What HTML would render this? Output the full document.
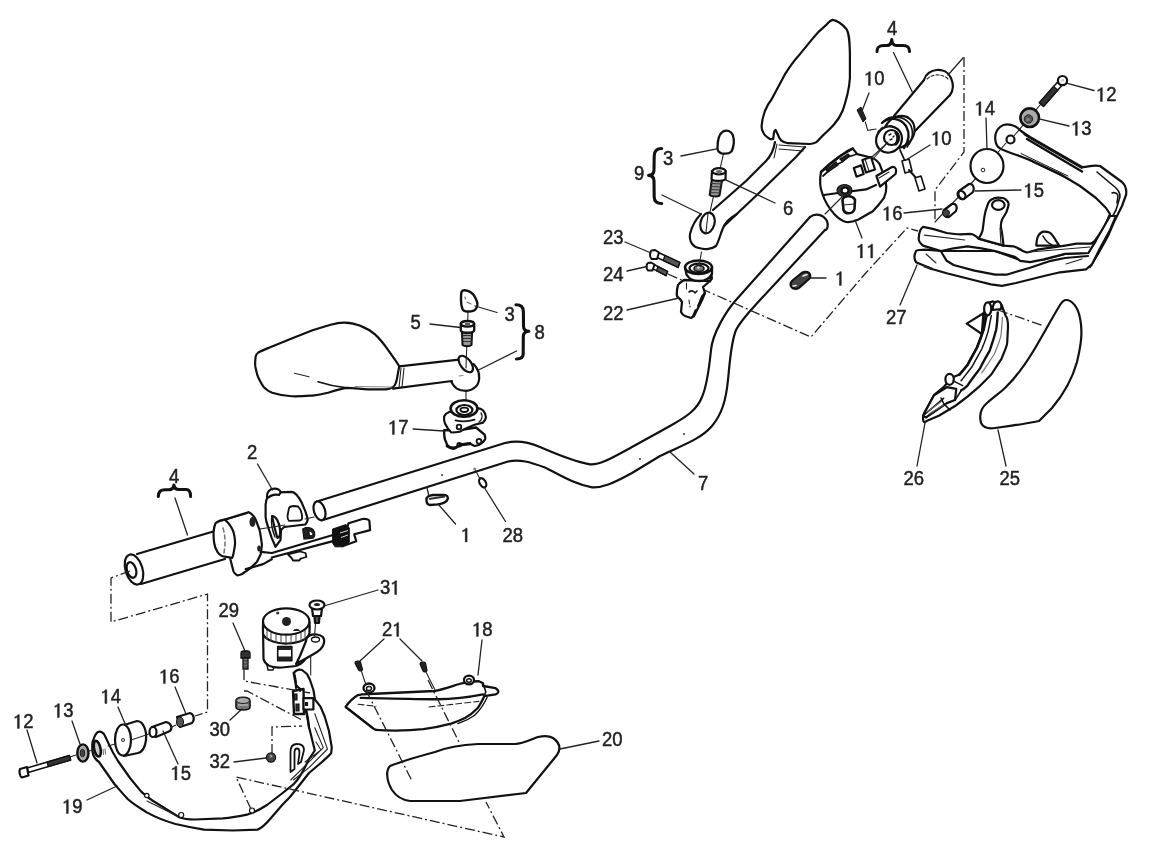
<!DOCTYPE html>
<html><head><meta charset="utf-8">
<style>
html,body{margin:0;padding:0;background:#fff;}
body{width:1152px;height:849px;overflow:hidden;}
svg{display:block;filter:blur(0.4px);}
.o{fill:none;stroke:#111;stroke-width:2.2;stroke-linejoin:round;stroke-linecap:round;}
.w{fill:#fff;stroke:#111;stroke-width:2.2;stroke-linejoin:round;stroke-linecap:round;}
.t{fill:none;stroke:#222;stroke-width:1.1;stroke-linecap:round;}
.l{fill:none;stroke:#222;stroke-width:1.3;stroke-linecap:round;}
.d{fill:none;stroke:#222;stroke-width:1.3;stroke-dasharray:10 3 2 3;}
.k{fill:#222;stroke:#111;stroke-width:1.2;}
.g{fill:#555;stroke:#111;stroke-width:1.2;}
text{font-family:"Liberation Sans",sans-serif;font-size:18.5px;fill:#222;stroke:#222;stroke-width:0.45px;transform-box:fill-box;transform-origin:50% 80%;transform:scaleY(1.08);}
.h{fill:none;stroke:none;}
.g1{fill:#222;stroke:#222;stroke-width:0.45px;}
</style></head>
<body>
<svg width="1152" height="849" viewBox="0 0 1152 849">

<!-- ============ HANDLEBAR TUBE (7) ============ -->
<g id="tube">
<path class="o" d="M317,501.5 L505,443 C515,440.5 527,441.5 540,447 C556,454 574,461.5 590,464.3 C600,465 610,459 632,447 L670,426 C686,417 697,410 702,397 C706,388 709,370 711,350 C712.5,333 727,310 736,300 L810,217"/>
<path class="o" d="M323,520 L508,461.5 C520,459 530,462 545,467.5 C560,475 575,484.5 592,487.3 C602,488 612,484 632,473 L660,456 C680,446 700,440 712,426 C722,414 726,400 728,380 C730,360 731,342 736,330 C741,320 750,311 760,300 L825,230"/>
<path class="o" d="M810,217 C815,213 823,214 827,221 C829,226 827,230 825,230"/>
<ellipse class="w" cx="319.5" cy="510.8" rx="5.5" ry="9.8" transform="rotate(-17 319.5 510.8)"/>
<circle cx="442" cy="475" r="1" fill="#333"/>
<circle cx="640" cy="459" r="1" fill="#333"/>
<circle cx="684" cy="434" r="1" fill="#333"/>
</g>

<path class="d" d="M668,274 L811,337 L864,275 L907,228 L918,231"/>
<!-- ============ LEFT MIRROR (8) ============ -->
<g id="lmirror">
<path class="w" d="M255.6,356.7 C255,362 255,366 255.6,367.8 C256.5,372 257,375 258.3,377.5 C260,381 262,385 263.9,387.2 C266.5,390 269,391.5 272.2,392.8 C279,395 285,396 291.7,396.25 C299,396.5 306,396 312.5,395.6 C318,395 323,394 327.8,392.8 C335,390.5 341,388.5 347.2,387.9 C354,388 361,389 368,389.3 L386,389.3 C389,389 391,388.5 393,387.2 C394.5,386 395.3,384.5 395.8,383 C397,380 397.5,376 397.9,373.3 L399.3,366.4 C398,364 397,362.5 395.8,360.8 L388.9,351.1 C384,344 380,339 375,334.4 C370,330 366,328 361.1,326.1 C355,323.5 350,322.8 344.4,322.6 C339,322.5 335,323.5 330.6,324.7 L312.5,330.3 L291.7,338.6 L270.8,346.9 C266,349 262,350.5 258.3,352.5 C257,353.5 256,355 255.6,356.7 Z"/>
<path class="t" d="M294.4,373.3 L309,376.8"/>
<path class="o" d="M318,381.7 C328,385 338,387 347.2,387.9" style="stroke-width:1.6"/>
<path class="t" d="M355,386.5 L392,387" style="stroke:#888"/>
<path d="M456.5,358 C457,357 458,356.8 459,356.8 C466,357 473,362 476.7,368.2 C478.5,371 479.3,375 479.2,378.2 C479,382 477.5,385 475.4,387 C472.5,389.5 470,390.8 466.6,390.8 C462,391 459,390 456.5,388.3 C454,386.5 452,384 451,382 Z" fill="#fff" stroke="none"/>
<path class="o" d="M399.3,366.4 L459,359.6 M393,388.6 L452,381"/>
<path class="t" d="M401,368 L399,388 M404,368 L402,387"/>
<path class="o" d="M473.5,364 C475,365.5 476,367 476.7,368.2 C478.5,371 479.3,375 479.2,378.2 C479,382 477.5,385 475.4,387 C472.5,389.5 470,390.8 466.6,390.8 C462,391 459,390 456.5,388.3 C454,386.5 452.5,384 451.5,382.2"/>
<ellipse class="w" cx="465.8" cy="364" rx="9.6" ry="5.2" transform="rotate(52 465.8 364)"/>
<path class="t" d="M466.3,357 L466,368"/>
<path class="t" d="M459,376 L463,375.5" style="stroke:#888"/>
</g>
<!-- cap 3 left, bolt 5 -->
<path class="t" d="M468,311 L467.7,322 M466.8,346 L466.3,358 M466,390 L466,401"/>
<path class="w" d="M461.5,292 C462,290.5 463.5,290 465,290.3 C470,291 474,294.5 475.6,298.2 C477,301 477.5,303 477.4,304.4 C477,307.5 475.5,309.8 473.8,310.6 C471,311.5 469,311.6 467.7,311.5 C465,311.3 463,310.5 462.4,308.8 C461.3,306 461,303 461,300 C461,297 461,294 461.5,292 Z" style="stroke-width:2.4"/>
<path class="t" d="M465,297 L465.5,299 M467,302 L471,304" style="stroke:#666"/>
<path d="M462,332.5 L462.5,345 C464,346.5 470,346.5 471.5,345 L472.1,332.5 Z" fill="#999" stroke="#111" stroke-width="2" stroke-linejoin="round"/>
<path d="M462.5,335.5 L472,335.5 M462.5,338.5 L472,338.5 M462.5,341.5 L472,341.5" stroke="#333" stroke-width="1"/>
<path class="w" d="M460.8,324 L460.8,330.5 C462,333.5 473,333.5 474.2,330.5 L474.2,324 Z" style="stroke-width:2.3"/>
<ellipse class="w" cx="467.5" cy="323.8" rx="6.6" ry="2.8" style="stroke-width:2.3"/>
<ellipse cx="467.5" cy="324" rx="2.8" ry="1.2" fill="#555"/>
<!-- 17 -->
<g id="p17">
<path class="w" d="M444.2,430.3 C444,436 444.5,439 445.6,441 C446.5,444 447.5,446 449.1,447.3 C451,448.5 452.5,448.8 454.1,448.7 C456,448 458,446 459.7,444.5 L470.3,443.8 C472,444.5 473,445.5 474.6,445.9 C477,446 479.5,445 481.6,443.1 C483.5,441.5 484.8,440 485.2,438.8 C485.5,437 485,435.5 484.5,434.6 L476,427.5 L460,430 Z" style="stroke-width:2.4"/>
<path class="w" d="M449.1,412 C446.5,413 445,414.5 444.2,416.2 C443.8,419 444,421.5 444.9,423.3 C446.5,427 448.5,430 451.3,432.5 C454,432.5 457,432.3 459.7,431.7 C461.5,430.8 463,429.8 464.7,428.9 L474.6,424.7 L483.1,422.6 C485,420.5 486,418.5 485.9,416.9 C485.5,414 484.5,412 483.1,410.5 C481.5,409 480,408.5 478.8,408.4 L476,409.1 Z" style="stroke-width:2.2"/>
<ellipse class="w" cx="464" cy="408.5" rx="13.4" ry="8.3" style="stroke-width:2.6"/>
<ellipse class="w" cx="464.4" cy="410" rx="8" ry="5" style="stroke-width:2.2"/>
<ellipse class="w" cx="464.3" cy="409.8" rx="3.9" ry="2.2" style="stroke-width:1.8"/>
<path class="o" d="M455.5,420.4 C462,422 469,421.5 474.6,419.7" style="stroke-width:1.8"/>
<ellipse cx="459" cy="427" rx="2.3" ry="2.3" fill="#fff" stroke="#111" stroke-width="1.8"/>
<ellipse cx="459.3" cy="444.8" rx="2" ry="1.8" fill="#fff" stroke="#111" stroke-width="1.8"/>
<ellipse cx="479" cy="441.3" rx="2.4" ry="2.4" fill="#fff" stroke="#111" stroke-width="1.8"/>
<path class="o" d="M447,446 C452,449 456,448.5 460,445 L470,443.5" style="stroke-width:2.8"/>
<path class="t" d="M481,413 C483,416 482,420 479,422" style="stroke-width:1.4"/>
</g>

<!-- ============ RIGHT MIRROR (9) ============ -->
<g id="rmirror">
<path class="w" d="M832.6,19.9 C837,20.5 843,25 846.6,29.3 C849,33 849.5,38 849.9,53.3 L849.9,78 C849.5,85 848.5,90 847.4,94.5 C846,100 844.5,106 842.5,111 C840,117 837,121 834.2,124.2 C830,129 827,131.5 824.3,134.1 C821,137 818.5,140.5 816,142.4 C813,144 811,144 809.5,144 L788,143.2 C785,142.5 783,142 781.4,140.7 C779.5,138.5 778.5,137 778.1,135 L775.6,130 C774.5,130.5 774,131.5 774,132.5 L773.2,139 C771,139.5 770,139 769.9,139 C766,136.5 764,134.5 763.3,132.5 C761.5,130 761.5,128 761.6,125.9 C762,120 763.5,115 764.9,111 C767,106 769,102.5 771.5,99.5 L784.7,74.7 C789,68 793,62 797.9,56.6 L812.8,38.4 C817,33 822,28.5 826,25.2 C828,23 830,20.5 832.6,19.9 Z"/>
<path class="o" d="M775,142 C774,148 772,155 766,161 L746,181 L713,210"/>
<path class="o" d="M805,147 L795,158 L759,193 L723,227"/>
<path class="t" d="M779,145 L805,147 M779,149 L803,151 M777,144 L774,158"/>
<path class="w" d="M701,214 C696,219 692,226 690,234 C689,242 693,247 699,248 C705,250 712,249 716,246 C719,241 720,235 723,228 C725,223 728,219 737,214"/>
<ellipse class="w" cx="707.5" cy="223" rx="7" ry="10.5" transform="rotate(15 707.5 223)"/>
<path class="t" d="M708,214 L706,232"/>
</g>
<!-- cap 3 right & bolt 6 -->
<path class="w" d="M717.5,148 C717.5,141 719,134 723,131.5 C727,129.5 731,131 732.8,135 C734.5,140 734,146 731.5,151.5 C729,153.8 725,154 721.5,153.3 C719,152.5 717.5,150.5 717.5,148 Z" style="stroke-width:2.3"/>
<path class="t" d="M723.4,154.2 L720,169 M713.5,196 L710,212"/>
<path d="M711.8,180 L709.7,194.8 C711,196.5 717,197 719.5,195.7 L722.1,180 Z" fill="#999" stroke="#111" stroke-width="2" stroke-linejoin="round"/>
<path d="M711,183.5 L721.5,184 M710.7,186.5 L721,187 M710.4,189.5 L720.5,190 M710.1,192.5 L720,193" stroke="#333" stroke-width="1"/>
<path class="w" d="M712,171 L711.5,179 C713,181.5 723,181.5 725.6,179 L725.6,171 Z" style="stroke-width:2.2"/>
<ellipse class="w" cx="719" cy="171.3" rx="6.6" ry="3.2" style="stroke-width:2.2"/>
<ellipse cx="719" cy="171.5" rx="3" ry="1.5" fill="#666"/>
<!-- ============ RIGHT GRIP (4) / THROTTLE / SWITCH (11) ============ -->
<g id="rgrip">
<path class="w" d="M924,80 C927,68 946,66 951,78 C954,85 953,91 950,95 L916,131 L880,124 Z" style="stroke:none"/>
<path class="o" d="M924,80 C927,68 946,66 951,78 C954,85 953,91 950,95"/>
<path class="o" d="M924,80 L894,116 M950,95 L915,131"/>
<path class="t" d="M927,79 C932,74 942,73 948,79" style="stroke-dasharray:3 2"/>
<ellipse class="w" cx="899" cy="132" rx="14.5" ry="17" transform="rotate(40 899 132)"/>
<path class="o" d="M884,121 C890,115 903,115 910,124 C914,131 913,140 907,147" style="stroke-width:1.6"/>
<path class="o" d="M882,123 C888,117 900,117 906,126 C910,133 909,141 904,148" style="stroke-width:2.4"/>
<ellipse class="w" cx="889" cy="139.5" rx="12.5" ry="13.5" transform="rotate(40 889 139.5)"/>
<path class="t" d="M878,132 C881,127 887,125 893,126" style="stroke-dasharray:2.5 2;stroke-width:1.6"/>
<circle class="w" cx="891.5" cy="137.5" r="7.5"/>
<path d="M896,131 C901,135 901,142 896,146 L894,144 C897,141 897,135 894,133 Z" fill="#111"/>
<path class="t" d="M889,135 L891,134 M890,140 L892,139 M893,137 L894,136" style="stroke-width:1.4"/>
<path d="M857,110 L861,107 L866,119 L863,122 Z" fill="#222" stroke="#111" stroke-width="1"/>
<path class="t" d="M865.3,122 L867.7,130.3 L876,129"/>
<path class="o" d="M900,150 L905,161" style="stroke-width:1.8"/>
<path class="w" d="M902,161 L909,159 L912,171 L905,173 Z" style="stroke-width:1.6"/>
<path class="o" d="M909,170 L917,179" style="stroke-width:2"/>
<path class="w" d="M915,178 L921,176 L925,189 L919,191 Z" style="stroke-width:1.6"/>
<path class="t" d="M888,142 L873,159"/>
</g>
<g id="p11">
<path class="w" d="M821,172 C819.5,180 820,188 822.5,194 C825,202 829,208 833.7,213.4 C838,218 842,221 846,222 C850,222.5 854,221.5 857.2,220.1 C863,217 868,214 872.8,211.2 C877,207 881,202 884,197.8 C886,193 886.5,190 886.3,186.6 C886,182 885,178 884,175.4 L879.6,164.2 C877,160 874,158.5 870.6,157.5 L857.2,154.1 L852.7,148.5 C848,150 845,152 841,155.5 L829.8,164 Z"/>
<path class="o" d="M821,172 L829.8,164 L841,155.5 L852.7,148.5" style="stroke-width:2.6"/>
<path class="o" d="M823,176 L834,166 L842,162 L848,157 L857,154" style="stroke-width:1.8"/>
<path class="k" d="M826,170 L836,162 L838,165 L828,172 Z M840,159 L848,154 L850,156 L842,161 Z"/>
<path class="o" d="M824,195 L838,193 L866,189.4 L876,185"/>
<path class="w" d="M853.8,168 L861,165.4 L863.7,174 L856.5,176.7 Z"/>
<path class="w" d="M862.3,160 L871,157 L875,169.5 L866,172.5 Z"/>
<path class="t" d="M865,159 L869,171"/>
<path class="w" d="M876.4,176 L892,167 C896,166.5 897,170 895.5,174 L880,186.6 Z"/>
<path class="t" d="M879,178 L889,172"/>
<ellipse cx="844.5" cy="190.5" rx="7.5" ry="6" fill="#333" stroke="#111" stroke-width="1.2"/>
<ellipse class="w" cx="845" cy="190.5" rx="3.5" ry="3"/>
<path class="w" d="M842.5,200 C843.5,195 853,195 855,200 L854.5,209 C853,214.5 845,214.5 843.5,210 Z" style="stroke-width:2.6"/>
<path class="t" d="M843,205 L854.5,204"/>
<path class="t" d="M825,214 L842,197 M872,157 L886,144"/>
</g>

<!-- ============ RIGHT HANDGUARD (27) & parts 12-16 ============ -->
<g id="rguard">
<!-- arm -->
<path class="w" d="M1001,149 C994,146 993,133 1000,127 C1006,122 1016,125 1021,131 L1030,137 L1082,167 C1087,167.5 1092,164.5 1100,166 L1122,182 C1126,186 1127,190 1126,195 L1122,206 L1114,222 L1108,236 L1098,254 L1090,267 L1084,262 L1088,246 L1094,242 L1104,228 L1110,214 L1106,208 L1096,198 L1080,186 L1060,174 L1030,160 C1020,156 1010,153 1001,149 Z"/>
<path class="o" d="M1024,134.5 L1031,139 L1082,168.5" style="stroke-width:1.4"/>
<path class="o" d="M1027,139 L1082,171.5" style="stroke-width:2.4"/>
<path class="o" d="M1018,155 L1068,179" style="stroke-width:1.3"/>
<path class="o" d="M1021,153.5 L1068,176" style="stroke-width:1"/>
<path class="o" d="M1097,172 L1116,188 C1120,192 1121,196 1119,200 L1116,210 L1106,228 L1096,240 L1088,246" style="stroke-width:1.6"/>
<path class="o" d="M1112,193 C1114,192 1118,193 1118,196 L1117,203" style="stroke-width:1.6"/>
<circle class="w" cx="1010.5" cy="139.5" r="4"/>
<!-- lower plate -->
<path class="w" d="M916,251 C917,250 920,249.7 926,249.7 L941,251 L995,251 L1020,260 L1044,259.4 L1065,254 L1088,253 L1095.5,241.3 L1110,216 L1116,216 L1110,230 L1100,248.3 L1092,264.3 L1086,269.3 L1060,272.3 L1044,276 L1016,283 L1002,285.8 L991,284.4 L974.4,280.3 L946.7,273.3 L932.8,269.2 L924.4,265.7 L916,262.2 C914,259 914,255 916,251 Z"/>
<path class="o" d="M941,251 L942.5,254 L946.7,260.8 L953.6,265 L974.4,270.6 L995.3,274.7 L1006.4,274.7 L1030,267.8 L1050.8,260.8 L1065,258 L1088,256"/>
<path class="t" d="M926,254 L936,263 M1066,264 L1082,259"/>
<path d="M924,266 L932,269" stroke="#222" stroke-width="2.5"/>
<!-- upper plate -->
<path class="w" d="M923,226.8 L932.8,228.9 L946.7,233 C953,234 957,234.4 960.6,234.4 L970.3,233.8 C973,234 975,235 978.6,238.6 L1003.6,245.6 L1013.3,246.3 C1016,247 1018,248 1023,251.1 C1025,252 1026,252.5 1027.2,252.5 L1037,249.7 L1065,245.6 L1076.6,243.7 L1090.8,243.7 L1095.5,241.3 L1088.4,253 L1065,253.9 L1043.9,259.4 L1030,262.2 L1020.3,260.8 L1014.7,256.7 L995.3,251.1 L981.4,248.3 L967.5,246.3 L953.6,248.3 L941.1,251.1 L923,245.6 C920,243 918,240 918.9,237.2 C919,232 920,229 923,226.8 Z"/>
<path class="t" d="M924.4,235.1 L964.7,240 M1030,252 L1090,247"/>
<!-- boss -->
<path class="w" d="M978.6,238.6 C981,235 982.5,232 982.8,228.9 L984.2,217.8 C985,212 986,209 987,206.7 C988,203 989,201 991.1,199.7 C994,198 996,197.6 998,197.6 C1001,197.6 1004,198 1005,199 C1008,201 1009,203 1008.5,205.3 C1008,208 1007,210 1006.4,212.2 L1002.2,219.2 C1001,222 1000.8,224 1000.8,226.1 L1002.2,234.4 L1003.6,245.6 Z"/>
<ellipse class="o" cx="998.3" cy="205" rx="6.3" ry="4.9"/>
<path class="t" d="M1000,228 L1001,245"/>
<!-- small loop -->
<path class="w" d="M1036.3,245.6 C1036.5,241 1037,238 1038.3,235.8 C1040,233 1042,231.7 1043.9,231.7 C1046,231.7 1048,231.8 1049.4,232.4 C1052,234 1054.5,238 1056.4,241.4 L1059.2,245.6 Z"/>
<path class="o" d="M1043,236 C1045,240 1048,243 1052,245" style="stroke-width:1.6"/>
</g>
<!-- axis and small parts -->
<path class="t" d="M1057,85 L1013,137 M1006,143 L994,157 M979,175 L935,222"/>
<!-- 12 bolt -->
<path d="M1061.6,85.8 L1043.6,106.3 L1039.4,102.7 L1057.4,82.2 Z" fill="#fff" stroke="#111" stroke-width="1.6" stroke-linejoin="round"/>
<path d="M1057.8,90 L1043.6,106.3 L1039.4,102.7 L1053.6,86.4 Z" fill="#333" stroke="#111" stroke-width="1.2"/>
<circle cx="1062.5" cy="80.6" r="4.6" fill="#fff" stroke="#111" stroke-width="2.2"/>
<circle cx="1062.8" cy="80.2" r="1.5" fill="#ccc"/>
<!-- 13 washer -->
<circle cx="1029.7" cy="117.7" r="9.3" fill="#aaa" stroke="#111" stroke-width="2.6"/>
<circle cx="1028.5" cy="119" r="4.2" fill="#555" stroke="#222" stroke-width="1"/>
<circle cx="1028" cy="119.5" r="1.5" fill="#888"/>
<!-- 14 -->
<ellipse class="w" cx="987" cy="166" rx="16.5" ry="17"/>
<circle cx="983" cy="170" r="1.8" fill="#fff" stroke="#222" stroke-width="1"/>
<!-- 15 -->
<path class="w" d="M959,191 L969,184 C973,183 975,188 973,192 L964,199 C960,200 957,195 959,191 Z"/>
<ellipse class="o" cx="961.5" cy="195" rx="3.5" ry="4.5" transform="rotate(-40 961.5 195)"/>
<!-- 16 -->
<path class="w" d="M944,210 L952,204 C956,203 958,207 956,211 L949,217 C945,218 942,214 944,210 Z"/>
<ellipse cx="946" cy="213" rx="3.5" ry="3.5" fill="#444" stroke="#111" stroke-width="1"/>

<!-- lower right guard 26 & shield 25 -->
<g id="p26">
<path class="w" d="M984,313 L983.4,330 L977,347.5 L967.5,365 L959.5,374.5 L951.6,377.7 L943.6,387.2 L934,395.2 L924.5,412.6 L923,417.4 C923,420 923.5,422 924.5,422.2 L927.7,420.6 L938.8,415.8 L954.7,406.3 L961.1,401.5 L967.5,396.7 L978.6,387.2 L991.3,374.5 L1001.6,358.6 C1005,350 1007,346 1007.2,342.7 L1008,326.8 C1008,320 1007,317 1005.6,315.7 L1001.6,305 L993,301.4 L987.7,303 Z"/>
<path class="w" d="M966.7,323.6 L983.4,313.3 L981.8,334 Z"/>
<path class="o" d="M986.5,315.7 C985,322 984.5,327 983.4,330 C981,338 979,343 977,347.5 C973,355 970,360 967.5,365 C964,369 962,372 959.5,374.5" style="stroke-width:2.6"/>
<path class="o" d="M991.3,315.7 C990,322 989,327 988.1,331.6 C986,339 984,344 981.8,349 C978,356 975,361 972.2,366.5 C968,372 964,377 961.1,380.8" style="stroke-width:1.5"/>
<path class="o" d="M997.7,312.5 C997.5,318 997,325 996.1,330 C994,338 992,344 989.7,350.6 C986,357 983,362 980.2,368.1 C976,374 971,380 967.5,385.6 C965,388 963,389.5 961.1,390.4" style="stroke-width:2.4"/>
<path class="t" d="M1002.4,317.3 C1002,325 1001.5,331 1000.8,336.3 C999,343 997,348 994.5,353.8 C990,361 986,367 981.8,372.9" style="stroke:#777;stroke-width:1.2"/>
<ellipse class="w" cx="987.7" cy="308.8" rx="3.6" ry="6.5" style="stroke-width:2.2"/>
<path class="w" d="M993,310 C992,305 995,301 998,301.4 C1001,302 1002,305 1001,309 Z"/>
<ellipse class="w" cx="949.6" cy="379.3" rx="4.2" ry="5.5" style="stroke-width:2.2"/>
<path class="o" d="M953.2,380.8 L962.7,385.6" style="stroke-width:1.5"/>
<path class="w" d="M934,395.2 L946.8,387.2 L956.3,388.8 L955,400 L946.8,403.1 L926.1,417.4 L923,415.8 Z"/>
<path class="o" d="M922.9,415.8 L943.6,398.3 M926.1,417.4 L946.8,403.1 M955,400 L961,391" style="stroke-width:1.6"/>
<path class="t" d="M927,412 L942,401 M929,414 L945,404" style="stroke:#666"/>
<path class="o" d="M941,398 L944,404 L950,410" style="stroke-width:1.6"/>
</g>
<path class="w" d="M1066,300 C1072,300 1078,307 1080,318 C1083,332 1081,345 1077,362 C1072,380 1063,395 1052,408 L1039,421 C1025,424 1010,426 995,428 C988,429 983,427 981,423 C979,415 981,408 987,403 C995,396 1001,392 1006,387 C1015,378 1025,365 1034,350 C1043,335 1052,318 1060,305 C1062,302 1064,300 1066,300 Z"/>
<path class="d" d="M998,310 L1044,326"/>

<!-- ============ LEFT GRIP (4), THROTTLE, SWITCH (2) ============ -->
<g id="lgrip">
<path class="w" d="M137,554 L215,531 L225,559 L141,584 Z" style="stroke:none"/>
<path class="o" d="M137,554 L215,531 M141,584 L225,559"/>
<ellipse class="w" cx="134" cy="569.5" rx="8.5" ry="15.5" transform="rotate(-17 134 569.5)"/>
<ellipse class="o" cx="131.5" cy="570" rx="4.5" ry="8" transform="rotate(-17 131.5 570)"/>
<!-- throttle housing -->
<path class="w" d="M224.8,519.6 L248.3,512.2 C250,512.5 251,513.5 252,514.6 C254,516 255,518 255.7,519.6 L259.4,529.5 C260.5,533 261,539 261.9,544.3 C261.5,549 261,552 260.7,554.2 L257,561.7 L250.8,567.8 L242.1,574 C240,575 238.5,575.5 237.2,575.3 C235,574 234,573 233.5,571.5 L231.6,564.1 L230.4,559.2 Z"/>
<path class="w" d="M215.5,523.3 C218,521 221,520 224.8,519.6 C229,523 232,528 233.5,532 C235,538 235.5,543 234.7,546.8 C234,551 233.5,555 232.2,557.9 L224.8,556.7 C219,556 215,550 214,542 C213,534 213.5,528 215.5,523.3 Z"/>
<path class="t" d="M223,528 L224,532 M224.5,535 L225,539 M225,542 L225,546 M224.5,549 L224,553" style="stroke:#777;stroke-width:1.6"/>
<path class="o" d="M221.1,520.8 L247.1,513.4" style="stroke-width:1.5"/>
<ellipse cx="252.5" cy="522" rx="3" ry="5" fill="#222"/>
<ellipse cx="259" cy="548.5" rx="1.8" ry="3" fill="#222"/>
<path class="o" d="M245.8,569.1 L263.1,564.1 L271.8,559.2 M260.7,551.8 L271.8,553"/>
<!-- switch 2 -->
<path class="w" d="M268.1,496.1 C266,500 265.6,503 265.6,504.7 L265.6,517.1 C266,521 267,524 268.1,527 L271.8,538.1 L275.5,546.8 L280.5,540 L281,530 L284.2,527 L305.2,524.5 C307,522 307.8,521 307.7,519.6 C307,516 306,513 305.2,510.9 L301.5,502.3 C300,499 298,496.5 296.5,494.8 C294.5,492.5 293,491.8 291.6,491.8 L279.2,492.4 Z"/>
<path class="w" d="M267,497 C266.5,492 270,489 274,488.7 C278,488.5 280.5,490 280.5,492.5 L279,495 C276,494 271,495 268.5,497.5 Z" style="stroke-width:2.2"/>
<path class="w" d="M289,508 C290,506.5 292,506 294,506 L298,506.5 C300,508 301.5,512 302,516 C302.5,518.5 302,520 300,520.5 L289,520.8 C288,520 287.5,518 287.5,516 Z" style="stroke-width:1.8"/>
<path d="M272,516 C276,516 279,522 280,529 C280.5,534 279.5,537.5 277.5,538 C275,531 274,525 272,516 Z" fill="#fff" stroke="#111" stroke-width="2.2" stroke-linejoin="round"/>
<path class="o" d="M271.8,516 C271,522 272,530 275,537" style="stroke-width:1.4"/>
<path d="M302.7,529 C306,527 311,527 313.5,530 C315.5,533 315,537 313,538.1 L304,539 Z" fill="#222" stroke="#111" stroke-width="1.2"/>
<path class="w" d="M309,531 C311,531 313,533 313,535 L310,536 Z" style="stroke-width:1"/>
<path class="t" d="M260,529 L285,525 M305,519 L314,517"/><!-- connector -->
<path class="o" d="M271.8,553 L333,535"/>
<path class="o" d="M271.8,557.5 L334.7,540.6"/>
<path class="w" d="M288,554.5 L300,551.5 L305.5,553 L306.4,557 L301,558.5 L299,560.5 L293,560.5 L291.6,558 Z" style="stroke-width:1.8"/>
<path class="w" d="M348.6,523.2 L362.5,519 C366,518.5 369,519.5 369.4,521.1 L370.1,530.1 L354.2,534.3 L356.25,541.25 L343,546 L347,528 Z"/>
<path d="M332.6,529 L346,524.5 L349.3,528 L349.3,542 L343,546.8 L335,546.8 L332.6,543 Z" fill="#111" stroke="#111" stroke-width="1"/>
<path d="M340,533 L348,530.5 M341,537.5 L348,535" stroke="#ddd" stroke-width="1"/>
</g>

<!-- ============ LEFT BOTTOM: reservoir (31), handguard (19) ============ -->
<g id="reservoir">
<path class="w" d="M263,626 L263.5,659 C265,665 272,668 282,667.5 L296,666 C302,664 306,660 307,654 L309.5,626 Z"/>
<path class="w" d="M263,622 L263,634 C266,641 278,644 288,643.5 C300,643 308,639 309.5,633 L309.5,622 Z"/>
<path class="t" d="M267,630 L267,639 M271,632 L271,641 M276,633 L276,642 M281,634 L281,643 M286,634 L286,643 M291,634 L291,643 M296,633 L296,642 M301,632 L301,641 M305,630 L305,639" style="stroke:#555"/>
<ellipse class="w" cx="286.2" cy="621.5" rx="23.2" ry="13.2"/>
<circle cx="286.5" cy="621.5" r="4.5" fill="#222"/>
<path d="M293,631 C294,628 299,628 300,631 Z" fill="#222"/>
<circle cx="277.7" cy="613" r="1.6" fill="#333"/>
<path class="w" d="M277.7,646.5 L291.8,646.5 L291.8,660.7 L277.7,660.7 Z" style="stroke-width:1.6"/>
<path d="M278,647 L291.5,647 L291.5,650 L278,650 Z M278,656.5 L291.5,656.5 L291.5,660.5 L278,660.5 Z" fill="#222"/>
<path class="o" d="M267,665 L268,670 L273,670 L274,667" style="stroke-width:1.4"/>
<path class="w" d="M306,641 C306,636 311,634 317,634.5 C322,635 325,638 324,643 C323,648 318,652 312,655 L296,664 L300,656 Z"/>
<ellipse class="o" cx="315.5" cy="639.5" rx="4" ry="2.5" style="stroke-width:1.3"/>
</g>
<!-- 31 bolt -->
<path class="w" d="M312,608 L313,616 L321,616 L322,608 Z"/>
<path class="w" d="M314.5,616 L315,623 L319,623 L319.5,616 Z" style="fill:#555"/>
<ellipse class="w" cx="317" cy="605" rx="7.5" ry="4.5"/>
<ellipse cx="317" cy="604.5" rx="3" ry="1.6" fill="#222"/>
<path class="t" d="M315.5,624 L314.5,636 M310.7,656 L310.7,675"/>
<!-- 29 bolt -->
<path d="M241,653 C241,650 250,650 250,653 L250,658 L241,658 Z" fill="#333" stroke="#111" stroke-width="1.3"/>
<path d="M243,658 L243,669 L248,669 L248,658 Z" fill="#777" stroke="#111" stroke-width="1.3"/>
<path d="M243,661 L248,661 M243,664 L248,664 M243,667 L248,667" stroke="#222" stroke-width="0.8"/>
<!-- 30 nut -->
<path d="M236,701 C236,696 250,696 250,701 L250,707 C250,711 236,711 236,707 Z" fill="#777" stroke="#111" stroke-width="1.6"/>
<ellipse cx="243" cy="700.5" rx="6.5" ry="3" fill="#aaa" stroke="#222" stroke-width="1"/>
<path d="M238,705 L248,705" stroke="#ccc" stroke-width="1"/>
<!-- 32 nut -->
<circle cx="271" cy="757.5" r="4.6" fill="#444" stroke="#111" stroke-width="1.2"/>
<circle cx="271" cy="756" r="1.5" fill="#999"/>

<!-- left handguard 19 -->
<g id="lguard">
<path class="w" d="M98,732 C101,731 104,733 105,736 L108.6,743.6 C111,749 114,755 118,761 L130,778 L141,791.4 C146,796 151,800 156.4,803 L179.3,817.2 C184,819 189,819.5 194.6,819.5 L223,818.3 C232,817.5 240,816 248,814.3 C255,812 261,809 267,805 L282,793.5 L294,783.8 C298,780 304,770 309,759 L314.8,750.5 L313.4,744.8 L309.2,727.8 L306.3,712.3 L300,689 L296,685 L293.6,673 C296,670 299,669 302,670 L307,674 L310,680 L313.4,690 L315,699.6 L320.5,706.6 L324.7,716.5 L328.9,730.7 L331.8,747.6 L331.1,753.3 C328,757 325,759 322,762 L309,773 L303.5,780 L290,797 L282.4,804.8 L271,818 C266,824 262,828 257.6,829.6 L232.8,830.5 L204,829.6 C194,828 184,826 175.5,824 C165,821 155,817 146.8,812.4 C140,808 133,804 127.7,799 C122,793 118,788 114.4,784 L99,762 C96,760 93,756 92.4,751 C92,746 92,742 93.4,740 C94.5,736 96,733 98,732 Z"/>
<ellipse cx="97.3" cy="748.7" rx="3.2" ry="8" fill="#ccc" stroke="#111" stroke-width="2.6" transform="rotate(-12 97.3 748.7)"/>
<path d="M103,749 L103.5,755 M105,748.5 L105.5,754.5" stroke="#555" stroke-width="0.9"/>
<path class="t" d="M147,801 L176,815.5"/>
<path class="t" d="M314.8,713.7 L327.5,749 L309.2,767.4 L293.6,780 M314.8,727.8 L323.3,747.6 L306.3,764.6 L290.8,780 M316,742 L321,750 L305,762"/>
<path class="o" d="M300,689 C304,700 308,715 309,728"/>
<path d="M290.5,772 L290.5,752 C290.5,746 293,744 297,744 C301,744 304,746 304,750 L301,762 L298,764 L299.5,753 C299.5,750 298.5,748.5 297,748.5 C295.5,748.5 294.5,750 294.5,753 L294.5,769 Z" fill="#fff" stroke="#111" stroke-width="1.8" stroke-linejoin="round"/>
<path class="w" d="M293,691 L303.5,689 L304,714 L294,714 Z" style="stroke-width:2.4"/>
<path class="k" d="M294,694 L297,694 L297,700 L294,700 Z M296,704 L299,704 L299,711 L296,711 Z" style="fill:#333"/>
<path class="w" d="M303.5,698.2 L313.4,698.2 L313.4,709.5 L303.5,709.5 Z"/>
<path class="k" d="M305.5,702.5 L307.5,702.5 L307.5,705.5 L305.5,705.5 Z"/>
<path class="o" d="M296,688 C296,680 295,676 294,673"/>
<circle cx="146.8" cy="795.5" r="2.2" fill="#fff" stroke="#111" stroke-width="1.2"/>
<circle cx="181.2" cy="815" r="2.5" fill="#fff" stroke="#111" stroke-width="1.2"/>
<circle cx="252" cy="810.5" r="2.5" fill="#fff" stroke="#111" stroke-width="1.2"/>
</g>
<!-- 12 bolt left -->
<path d="M27,768 L69.4,755.6 L70.6,760 L28.2,772.4 Z" fill="#fff" stroke="#111" stroke-width="1.6" stroke-linejoin="round"/>
<path d="M47,762.2 L69.4,755.6 L70.6,760 L48.2,766.6 Z" fill="#333" stroke="#111" stroke-width="1.2"/>
<path d="M20,769 L27,767 L28.5,775.5 L22,777.5 C19.5,776.5 19,771 20,769 Z" fill="#fff" stroke="#111" stroke-width="2.2" stroke-linejoin="round"/>
<!-- 13 washer left -->
<ellipse cx="82.9" cy="753" rx="5.6" ry="8.6" fill="#aaa" stroke="#111" stroke-width="2.4"/>
<ellipse cx="82.5" cy="753" rx="2.3" ry="3.8" fill="#444" stroke="#222" stroke-width="1"/>
<!-- 14 left -->
<path class="w" d="M121,726 L137,721 C143,721 147,730 146,740 C145,748 142,752 138,753 L124,756 Z"/>
<ellipse class="w" cx="123" cy="740" rx="8" ry="15.5"/>
<circle cx="123" cy="740" r="1.5" fill="#fff" stroke="#222" stroke-width="1"/>
<!-- 15 left -->
<path class="w" d="M152,727 L166,722 C171,723 173,728 170,731 L156,737 Z"/>
<ellipse class="w" cx="153" cy="732" rx="3.5" ry="5"/>
<!-- 16 left -->
<path class="w" d="M177,717 L190,713 C194,714 195,720 192,723 L180,727 Z"/>
<ellipse cx="180" cy="722" rx="3.5" ry="5" fill="#555" stroke="#111" stroke-width="1"/>
<!-- axis -->
<path class="t" d="M70,757 L76,755 M89,751 L93,750 M108,746 L115,744 M131,740 L149,734 M172,727 L176,725"/>

<!-- ============ PART 18 (light) and 20 (shield) ============ -->
<g id="p18">
<path class="w" d="M345.6,707 C349,702 354,697.5 358,695.1 L362.2,694.4 L374.7,693.75 C395,693 415,692 434.4,691 C443,689.5 451,686.5 459.4,684 L465,682.6 C470,681.8 475,681.2 478.9,681.25 L483,683.3 L483,686 L495.6,688.2 C497.5,689.5 498.5,690.5 498.3,691.7 C498,693 497,694 495.6,694.4 L485.8,695.8 L484.4,696 C482,701 480,705 477.5,708.3 C473,713 469,716 465,718 C460,720.5 455.5,722.2 451,723.6 C442,726 432,728 423.3,729.2 C414,730.2 405,730.6 395.6,730.6 C389,730.5 382,730.3 376,729.9 L373.3,728.5 L345.6,707 Z" style="stroke-width:2.3"/>
<path class="o" d="M360.8,697.9 C390,698.5 415,699.2 437.2,699.3 C455,699 470,697 483,694.4" style="stroke-width:2.4"/>
<path class="t" d="M358,704.2 L376,706.25 M428.9,707 L478.9,701.4" style="stroke-dasharray:6 3"/>
<path class="o" d="M487.2,697.2 C484,704 480,710 474.7,715.3 C469,719.5 463,722 458,723.6" style="stroke-width:1.4"/>
<path class="o" d="M483,683.3 L485.8,691.7 L484.4,696" style="stroke-width:1.6"/>
<path class="o" d="M374,729 L349,709" style="stroke-width:1.5"/>
<ellipse class="w" cx="369" cy="688" rx="5.5" ry="4.5" style="stroke-width:2.3"/>
<ellipse class="o" cx="369" cy="688.5" rx="2.5" ry="2" style="stroke-width:1.4"/>
<ellipse class="w" cx="469" cy="680" rx="5" ry="4.3" style="stroke-width:2.3"/>
<ellipse class="o" cx="469" cy="680.5" rx="2.3" ry="1.8" style="stroke-width:1.4"/>
</g>
<!-- screws 21 -->
<path d="M355,663 C355,661 359,660.5 360.5,662 L362.5,669.5 C362,671 359.5,671.5 358.5,670 Z" fill="#222" stroke="#111" stroke-width="1.2"/>
<path d="M420,664 C420,662 424,661.5 425.5,663 L427,670.5 C426.5,672 424,672.5 423,671 Z" fill="#222" stroke="#111" stroke-width="1.2"/>
<path class="t" d="M361,670 L366,685 M426,672 L435,690"/>
<!-- 20 -->
<path class="w" d="M390,766 C386,770 386,780 392,790 C396,796 402,800 410,801 L460,801 L526,793 L557,755 C561,749 560,743 553,738 C548,735 543,736 538,737 C530,740 522,744 515,744 L478,744 C460,745 445,748 435,752 C420,756 405,760 390,766 Z"/>

<!-- ============ RIGHT-SIDE small bits ============ -->
<!-- part 1 right -->
<path d="M791.5,287 C790,285 790.5,282.5 792.5,280.5 L801,273.5 C803.5,271.5 807,271.5 809,273 C810.5,274.5 810.5,277 809,279 L799.5,287.5 C797.5,289.5 793.5,289.5 791.5,287 Z" fill="#444" stroke="#111" stroke-width="2.2" stroke-linejoin="round"/>
<path d="M803,276 L807,274.5 M793,286 L796,285.5" stroke="#eee" stroke-width="1.5" stroke-linecap="round"/>
<!-- part 1 left -->
<path class="w" d="M426.5,500 C426,497 429,495.5 433,495 L444,494.8 C447,495 448.5,497 447.5,499.5 C446.5,502 443,503.5 438,504.3 L430,505 C427.5,504.8 426.5,502.5 426.5,500 Z" style="stroke-width:2.3"/>
<path d="M429,499 L445,496.5" stroke="#333" stroke-width="2"/>
<!-- 28 -->
<path class="t" d="M474.7,469 L480,479"/>
<ellipse class="w" cx="482.7" cy="482.8" rx="3" ry="5" transform="rotate(-30 482.7 482.8)" style="stroke-width:2.2"/>
<circle cx="474.7" cy="469" r="1.5" fill="#888"/>
<!-- 22 clamp -->
<path class="w" d="M684,280 C681,282 679,283 678,285 C677,289 676.5,293 677,296 C678,297.5 679,298.5 680,299 L682,302 L681,312 C682,314 683.5,315.5 685,316 L691,318 L694,316 L698,308 L702,300 L705,293 L703,287 L710,281 Z" style="stroke-width:2.3"/>
<path d="M701,296 L705,291 L703,300 L699,308 L697,306 Z" fill="#111"/>
<path d="M692,316 L695,309 L697,310 L694,317 Z" fill="#111"/>
<path class="o" d="M689,292 C691,290 694,291 695,293 L697,291" style="stroke-width:1.6"/>
<path class="t" d="M686.5,283 L686.5,289 M689,300 L689.5,304 M690,306 L690,307"/>
<path class="w" d="M685,267 L686.5,274.5 C689,279 694,281 699,281 C705,281 710,278 712,273.5 L712,267 Z" style="stroke-width:2.3"/>
<ellipse class="w" cx="698.5" cy="267.3" rx="13.5" ry="6.8" style="stroke-width:2.5"/>
<ellipse class="w" cx="699" cy="268.3" rx="9.5" ry="4.6" style="stroke-width:2.2"/>
<ellipse cx="699" cy="268.5" rx="5" ry="3" fill="#777" stroke="#111" stroke-width="1.6"/>
<circle cx="698.5" cy="267.5" r="1.3" fill="#ddd"/>
<path d="M709,277 L712.5,273 L713,279 L710,283 Z" fill="#111"/>
<path class="t" d="M699,266 L701.5,252"/>
<!-- 23, 24 -->
<path d="M658.5,252.5 L679.8,262.5 L678,267.4 L657,257.5 Z" fill="#fff" stroke="#111" stroke-width="1.6" stroke-linejoin="round"/>
<path d="M665,255.5 L679.8,262.5 L678,267.4 L663.2,260.4 Z" fill="#555" stroke="#111" stroke-width="1.3"/>
<path d="M651.5,250.5 C649.5,252 649.5,257 651.5,259 L657,259 L659,252.5 L655,250 Z" fill="#fff" stroke="#111" stroke-width="2" stroke-linejoin="round"/>
<path d="M654,264.5 L667.5,271.5 L666,275.6 L652.5,268.6 Z" fill="#fff" stroke="#111" stroke-width="1.6" stroke-linejoin="round"/>
<path d="M658,266.6 L667.5,271.5 L666,275.6 L656.5,270.7 Z" fill="#555" stroke="#111" stroke-width="1.3"/>
<path d="M648,263 C646,264.5 646,269 648,270.5 L652.5,270.5 L654.5,264.5 L651,262.5 Z" fill="#fff" stroke="#111" stroke-width="2" stroke-linejoin="round"/>

<!-- ============ LEADERS ============ -->
<path class="l" d="M681,156 L716.8,148.9"/>
<path class="l" d="M725.6,179.8 L775,203"/>
<path class="l" d="M662,195 L701,214"/>
<path class="l" d="M625,242 L651,253"/>
<path class="l" d="M627,271 L647,266.5"/>
<path class="l" d="M627,310 L679,298"/>
<path class="l" d="M810,278 L826,278"/>
<path class="l" d="M855,220 L862,238"/>
<path class="l" d="M893.5,52.5 L912.5,92.5"/>
<path class="l" d="M869,93 L862,111"/>
<path class="l" d="M948,75 L963,58"/>
<path class="l" d="M930,145 L906,160"/>
<path class="l" d="M1067.3,83.4 L1094,90.5"/>
<path class="l" d="M1039,118.8 L1069,126"/>
<path class="l" d="M986,118 L987,149"/>
<path class="l" d="M975,191 L1021,190"/>
<path class="l" d="M904,213 L942,209"/>
<path class="l" d="M917,265 L900,305"/>
<path class="l" d="M925,423 L917,466"/>
<path class="l" d="M998,430 L1006,466"/>
<path class="l" d="M670,452 L694,474"/>
<path class="l" d="M430,324 L460.5,327.5"/>
<path class="l" d="M475,306 L497,312.5"/>
<path class="l" d="M478.5,370 L516.5,351"/>
<path class="l" d="M413,429 L444,431"/>
<path class="l" d="M257.5,464 L272.5,490"/>
<path class="l" d="M175,498 L187.5,535"/>
<path class="l" d="M438,504 L455.5,524 M427,488 L429,496"/>
<path class="l" d="M484,487 L505.5,521.5"/>
<path class="l" d="M324,606 L378,590"/>
<path class="l" d="M384,639 L360,661 M400,639 L422,661"/>
<path class="l" d="M482,640 L478,675"/>
<path class="l" d="M233,623 L245,651"/>
<path class="l" d="M230,720 L242,709"/>
<path class="l" d="M234,762 L266,758"/>
<path class="l" d="M27,730 L37,763"/>
<path class="l" d="M72,721 L80,744"/>
<path class="l" d="M118,707 L126,726"/>
<path class="l" d="M175,687 L186,714"/>
<path class="l" d="M163,731 L178,764"/>
<path class="l" d="M87,800 L117,786"/>
<path class="l" d="M560,749 L599,741"/>

<!-- braces -->
<path class="o" d="M877,51.5 C877,47 879,45.5 884,45.5 L887,45.5 C890,45.5 891.5,43 891.8,39.5 C892,43 893.5,45.5 896.5,45.5 L903,45.5 C907.5,45.5 909.5,47 909.5,51.5" style="stroke-width:3.1"/>
<path class="o" d="M158.3,496.5 C158.3,492 160.5,489.7 165,489.7 L169,489.7 C172,489.7 173.6,488 173.9,485 C174.2,488 176,489.5 179,489.5 L186,489.5 C189,489.5 190.6,492 190.6,496.5" style="stroke-width:3.1"/>
<path class="o" d="M661.7,148.5 C656.5,148.5 654.3,151 654.2,156 L654,170 C654,173.3 652,175.2 648.6,175.4 C652,175.6 654,177.5 654,181 L654.2,197 C654.3,201.5 656.5,203.5 661.7,203.5" style="stroke-width:3.1"/>
<path class="o" d="M516,304.8 C521,304.8 523.3,307 523.4,311.5 L523.5,326 C523.5,329.3 525.5,331.1 528.8,331.3 C525.5,331.5 523.4,333.5 523.3,336.5 L523.2,354 C523.1,357.5 521,359 516.5,359" style="stroke-width:3.1"/>
<!-- ============ DASH-DOT LINES ============ -->
<path class="d" d="M964,57 L964,152 L935,190 L935,222"/>
<path class="d" d="M130,571 L111,578 L111,622 L207.5,594 L207.5,712 L195,716"/>
<path class="d" d="M244,670 L244,681 L310,693"/>
<path class="d" d="M244,691 L247,691 L302,720"/>
<path class="d" d="M272,754 L272,727 L302,726"/>
<path class="d" d="M251,809 L236,777 L504,837 L486,802"/>
<path class="d" d="M366,690 L412,781"/>
<path class="d" d="M428,680 L460,744"/>

<!-- ============ LABELS ============ -->
<text x="887" y="35.4">4</text>
<text x="864" y="85.4"><tspan class="h">1</tspan>0</text><path class="g1" d="M868.43,85.42L870.32,85.42L870.32,71.67L868.88,71.67C868.52,72.54 867.61,73.47 865.81,73.90L865.81,75.37C866.98,75.12 867.88,74.64 868.43,74.05Z"/>
<text x="1096" y="101.4"><tspan class="h">1</tspan>2</text><path class="g1" d="M1100.43,101.42L1102.32,101.42L1102.32,87.67L1100.88,87.67C1100.52,88.54 1099.61,89.47 1097.81,89.90L1097.81,91.37C1098.98,91.12 1099.88,90.64 1100.43,90.05Z"/>
<text x="1071" y="135.4"><tspan class="h">1</tspan>3</text><path class="g1" d="M1075.43,135.42L1077.32,135.42L1077.32,121.67L1075.88,121.67C1075.52,122.54 1074.61,123.47 1072.81,123.90L1072.81,125.37C1073.98,125.12 1074.88,124.64 1075.43,124.05Z"/>
<text x="974.5" y="115.4"><tspan class="h">1</tspan>4</text><path class="g1" d="M978.93,115.42L980.82,115.42L980.82,101.67L979.38,101.67C979.02,102.54 978.11,103.47 976.31,103.90L976.31,105.37C977.48,105.12 978.38,104.64 978.93,104.05Z"/>
<text x="931" y="145.4"><tspan class="h">1</tspan>0</text><path class="g1" d="M935.43,145.42L937.32,145.42L937.32,131.67L935.88,131.67C935.52,132.54 934.61,133.47 932.81,133.90L932.81,135.37C933.98,135.12 934.88,134.64 935.43,134.05Z"/>
<text x="1023.5" y="197.4"><tspan class="h">1</tspan>5</text><path class="g1" d="M1027.93,197.42L1029.82,197.42L1029.82,183.67L1028.38,183.67C1028.02,184.54 1027.11,185.47 1025.31,185.90L1025.31,187.37C1026.48,187.12 1027.38,186.64 1027.93,186.05Z"/>
<text x="882" y="220.4"><tspan class="h">1</tspan>6</text><path class="g1" d="M886.43,220.42L888.32,220.42L888.32,206.67L886.88,206.67C886.52,207.54 885.61,208.47 883.81,208.90L883.81,210.37C884.98,210.12 885.88,209.64 886.43,209.05Z"/>
<text x="886" y="324.4">27</text>
<text x="903.5" y="485.4">26</text>
<text x="999.5" y="485.4">25</text>
<text x="835" y="285.4"><tspan class="h">1</tspan></text><path class="g1" d="M839.43,285.42L841.32,285.42L841.32,271.67L839.88,271.67C839.52,272.54 838.61,273.47 836.81,273.90L836.81,275.37C837.98,275.12 838.88,274.64 839.43,274.05Z"/>
<text x="856" y="257.9"><tspan class="h">1</tspan><tspan class="h">1</tspan></text><path class="g1" d="M860.43,257.92L862.32,257.92L862.32,244.17L860.88,244.17C860.52,245.04 859.61,245.97 857.81,246.40L857.81,247.87C858.98,247.62 859.88,247.14 860.43,246.55Z M870.72,257.92L872.61,257.92L872.61,244.17L871.17,244.17C870.81,245.04 869.90,245.97 868.10,246.40L868.10,247.87C869.27,247.62 870.17,247.14 870.72,246.55Z"/>
<text x="663" y="165.4">3</text>
<text x="634" y="180.4">9</text>
<text x="783" y="215.4">6</text>
<text x="603" y="244.4">23</text>
<text x="603" y="281.4">24</text>
<text x="603" y="320.4">22</text>
<text x="698" y="490.4">7</text>
<text x="410.5" y="329.4">5</text>
<text x="504.5" y="321.4">3</text>
<text x="534.5" y="339.4">8</text>
<text x="388" y="434.4"><tspan class="h">1</tspan>7</text><path class="g1" d="M392.43,434.42L394.32,434.42L394.32,420.67L392.88,420.67C392.52,421.54 391.61,422.47 389.81,422.90L389.81,424.37C390.98,424.12 391.88,423.64 392.43,423.05Z"/>
<text x="247" y="459.4">2</text>
<text x="169" y="483.4">4</text>
<text x="460.8" y="541.9"><tspan class="h">1</tspan></text><path class="g1" d="M465.23,541.92L467.12,541.92L467.12,528.17L465.68,528.17C465.32,529.04 464.41,529.97 462.61,530.40L462.61,531.87C463.78,531.62 464.68,531.14 465.23,530.55Z"/>
<text x="502.5" y="542.4">28</text>
<text x="380" y="594.4">3<tspan class="h">1</tspan></text><path class="g1" d="M394.72,594.42L396.61,594.42L396.61,580.67L395.17,580.67C394.81,581.54 393.90,582.47 392.10,582.90L392.10,584.37C393.27,584.12 394.17,583.64 394.72,583.05Z"/>
<text x="382" y="636.4">2<tspan class="h">1</tspan></text><path class="g1" d="M396.72,636.42L398.61,636.42L398.61,622.67L397.17,622.67C396.81,623.54 395.90,624.47 394.10,624.90L394.10,626.37C395.27,626.12 396.17,625.64 396.72,625.05Z"/>
<text x="472" y="636.4"><tspan class="h">1</tspan>8</text><path class="g1" d="M476.43,636.42L478.32,636.42L478.32,622.67L476.88,622.67C476.52,623.54 475.61,624.47 473.81,624.90L473.81,626.37C474.98,626.12 475.88,625.64 476.43,625.05Z"/>
<text x="218.5" y="616.9">29</text>
<text x="13" y="728.4"><tspan class="h">1</tspan>2</text><path class="g1" d="M17.43,728.42L19.32,728.42L19.32,714.67L17.88,714.67C17.52,715.54 16.61,716.47 14.81,716.90L14.81,718.37C15.98,718.12 16.88,717.64 17.43,717.05Z"/>
<text x="53" y="717.4"><tspan class="h">1</tspan>3</text><path class="g1" d="M57.43,717.42L59.32,717.42L59.32,703.67L57.88,703.67C57.52,704.54 56.61,705.47 54.81,705.90L54.81,707.37C55.98,707.12 56.88,706.64 57.43,706.05Z"/>
<text x="100.5" y="703.4"><tspan class="h">1</tspan>4</text><path class="g1" d="M104.93,703.42L106.82,703.42L106.82,689.67L105.38,689.67C105.02,690.54 104.11,691.47 102.31,691.90L102.31,693.37C103.48,693.12 104.38,692.64 104.93,692.05Z"/>
<text x="159" y="683.4"><tspan class="h">1</tspan>6</text><path class="g1" d="M163.43,683.42L165.32,683.42L165.32,669.67L163.88,669.67C163.52,670.54 162.61,671.47 160.81,671.90L160.81,673.37C161.98,673.12 162.88,672.64 163.43,672.05Z"/>
<text x="170.5" y="779.9"><tspan class="h">1</tspan>5</text><path class="g1" d="M174.93,779.92L176.82,779.92L176.82,766.17L175.38,766.17C175.02,767.04 174.11,767.97 172.31,768.40L172.31,769.87C173.48,769.62 174.38,769.14 174.93,768.55Z"/>
<text x="62" y="813.4"><tspan class="h">1</tspan>9</text><path class="g1" d="M66.43,813.42L68.32,813.42L68.32,799.67L66.88,799.67C66.52,800.54 65.61,801.47 63.81,801.90L63.81,803.37C64.98,803.12 65.88,802.64 66.43,802.05Z"/>
<text x="209.5" y="736.4">30</text>
<text x="209.5" y="768.4">32</text>
<text x="602" y="745.9">20</text>
</svg>
</body></html>
